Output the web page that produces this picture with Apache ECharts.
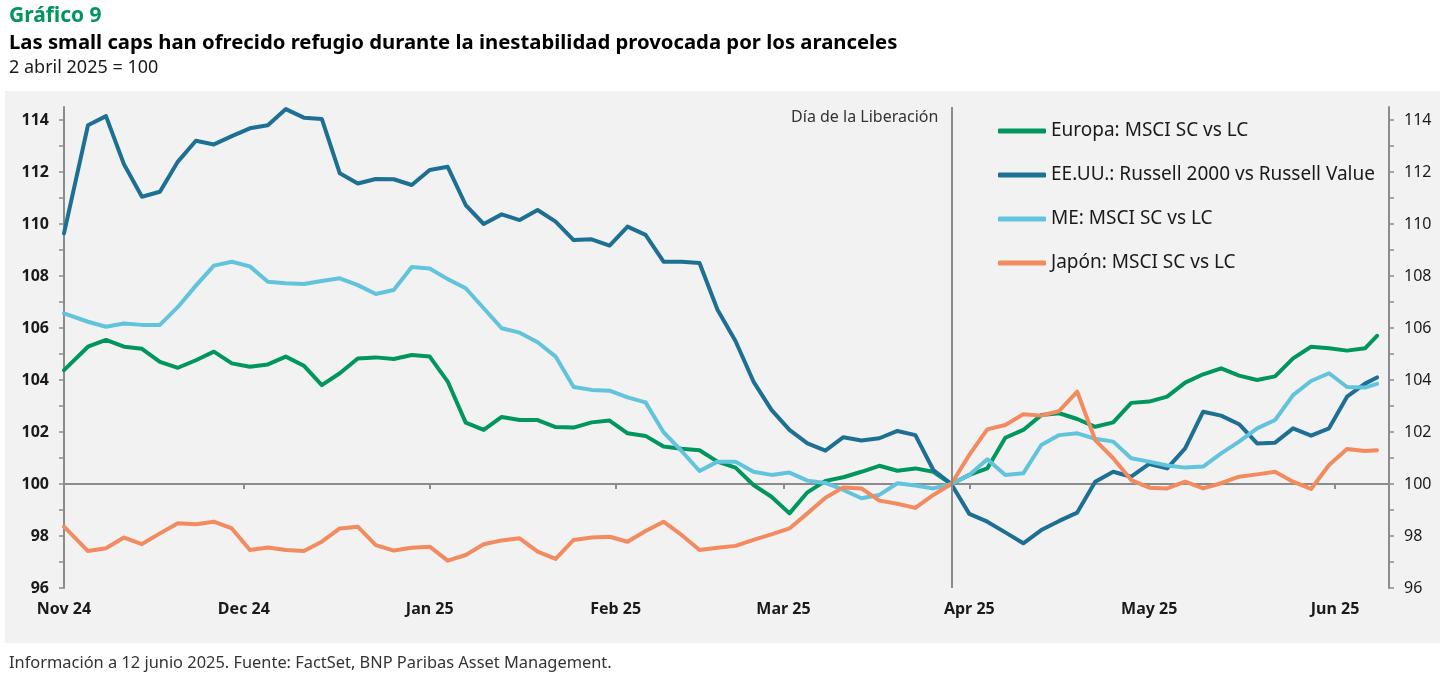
<!DOCTYPE html>
<html>
<head>
<meta charset="utf-8">
<title>Gráfico 9</title>
<script src="https://cdn.jsdelivr.net/npm/echarts@6/dist/echarts.min.js"></script>
<style>
  html, body { margin: 0; padding: 0; background: #fff; }
  #chart { width: 1443px; height: 673px; }
</style>
</head>
<body>
<div id="chart"></div>
<script>
// fechas de la serie (cada ~3 días)
const dates = [
  '2024-11-05', '2024-11-09', '2024-11-12', '2024-11-15', '2024-11-18', '2024-11-21', '2024-11-24', '2024-11-27', '2024-11-30',
  '2024-12-03', '2024-12-06', '2024-12-09', '2024-12-12', '2024-12-15', '2024-12-18', '2024-12-21', '2024-12-24', '2024-12-27', '2024-12-30',
  '2025-01-02', '2025-01-05', '2025-01-08', '2025-01-11', '2025-01-14', '2025-01-17', '2025-01-20', '2025-01-23', '2025-01-26', '2025-01-29',
  '2025-02-01', '2025-02-04', '2025-02-07', '2025-02-10', '2025-02-13', '2025-02-16', '2025-02-19', '2025-02-22', '2025-02-25', '2025-02-28',
  '2025-03-03', '2025-03-06', '2025-03-09', '2025-03-12', '2025-03-15', '2025-03-18', '2025-03-21', '2025-03-24', '2025-03-27', '2025-03-30',
  '2025-04-02', '2025-04-05', '2025-04-08', '2025-04-11', '2025-04-14', '2025-04-17', '2025-04-20', '2025-04-23', '2025-04-26', '2025-04-29',
  '2025-05-02', '2025-05-05', '2025-05-08', '2025-05-11', '2025-05-14', '2025-05-17', '2025-05-20', '2025-05-23', '2025-05-26', '2025-05-29',
  '2025-06-01', '2025-06-04', '2025-06-07', '2025-06-10', '2025-06-12'
]

const europa = [
  104.38, 105.28, 105.54, 105.28, 105.2, 104.7, 104.47, 104.76, 105.09,
  104.64, 104.51, 104.6, 104.9, 104.55, 103.8, 104.26, 104.83, 104.87, 104.81,
  104.96, 104.9, 103.94, 102.36, 102.08, 102.58, 102.46, 102.46, 102.19, 102.17,
  102.37, 102.44, 101.95, 101.85, 101.44, 101.36, 101.3, 100.86, 100.63, 99.96,
  99.51, 98.87, 99.68, 100.12, 100.26, 100.47, 100.7, 100.51, 100.6, 100.47,
  100, 100.35, 100.6, 101.78, 102.08, 102.65, 102.72, 102.5, 102.2, 102.37,
  103.12, 103.17, 103.36, 103.9, 104.22, 104.45, 104.17, 104.0, 104.14, 104.83,
  105.28, 105.22, 105.13, 105.22, 105.7
]

const eeuu = [
  109.64, 113.8, 114.15, 112.3, 111.05, 111.24, 112.4, 113.2, 113.06,
  113.38, 113.68, 113.8, 114.42, 114.09, 114.04, 111.95, 111.56, 111.73, 111.72,
  111.5, 112.08, 112.2, 110.73, 110.0, 110.37, 110.15, 110.54, 110.09, 109.38,
  109.41, 109.17, 109.9, 109.58, 108.55, 108.55, 108.5, 106.7, 105.5, 103.94,
  102.85, 102.08, 101.56, 101.28, 101.8, 101.67, 101.76, 102.04, 101.88, 100.54,
  100, 98.85, 98.55, 98.14, 97.72, 98.23, 98.58, 98.9, 100.09, 100.47,
  100.28, 100.77, 100.6, 101.37, 102.78, 102.63, 102.3, 101.56, 101.59, 102.14,
  101.86, 102.14, 103.36, 103.86, 104.1
]

const me = [
  106.56, 106.24, 106.05, 106.17, 106.12, 106.12, 106.81, 107.63, 108.4,
  108.55, 108.37, 107.78, 107.72, 107.69, 107.81, 107.91, 107.65, 107.31, 107.46,
  108.35, 108.29, 107.88, 107.53, 106.76, 105.99, 105.82, 105.45, 104.9, 103.73,
  103.62, 103.59, 103.33, 103.14, 101.99, 101.27, 100.5, 100.86, 100.86, 100.47,
  100.35, 100.44, 100.13, 100.04, 99.77, 99.45, 99.58, 100.03, 99.94, 99.83,
  100, 100.35, 100.95, 100.35, 100.41, 101.5, 101.88, 101.95, 101.74, 101.63,
  100.99, 100.86, 100.71, 100.63, 100.67, 101.18, 101.63, 102.14, 102.46, 103.42,
  103.96, 104.26, 103.73, 103.71, 103.85
]

const japon = [
  98.36, 97.42, 97.53, 97.94, 97.69, 98.1, 98.49, 98.45, 98.55,
  98.29, 97.46, 97.56, 97.46, 97.42, 97.78, 98.29, 98.36, 97.65, 97.44,
  97.55, 97.59, 97.05, 97.27, 97.68, 97.83, 97.91, 97.4, 97.12, 97.85,
  97.94, 97.97, 97.78, 98.19, 98.55, 98.04, 97.46, 97.55, 97.62, 97.85,
  98.06, 98.29, 98.87, 99.47, 99.87, 99.83, 99.36, 99.24, 99.08, 99.58,
  100, 101.12, 102.1, 102.27, 102.68, 102.63, 102.81, 103.55, 101.69, 100.99,
  100.15, 99.86, 99.83, 100.09, 99.83, 100.03, 100.28, 100.37, 100.47, 100.09,
  99.81, 100.73, 101.35, 101.27, 101.3
]

const seriesNames = ['Europa: MSCI SC vs LC', 'EE.UU.: Russell 2000 vs Russell Value', 'ME: MSCI SC vs LC', 'Japón: MSCI SC vs LC']
const seriesValues = [europa, eeuu, me, japon]
const seriesColors = ['#00965e', '#1d7093', '#62c3dc', '#f28b5f']

// marcas del eje x (el gráfico original las pone hacia el día 5 de cada mes)
const monthTicks = ['2024-11-05', '2024-12-05', '2025-01-05', '2025-02-05', '2025-03-05', '2025-04-05', '2025-05-05', '2025-06-05']
const monthLabels = ['Nov 24', 'Dec 24', 'Jan 25', 'Feb 25', 'Mar 25', 'Apr 25', 'May 25', 'Jun 25']

const yTicks = [96, 97, 98, 99, 100, 101, 102, 103, 104, 105, 106, 107, 108, 109, 110, 111, 112, 113, 114]
const yLabels = [96, 98, 100, 102, 104, 106, 108, 110, 112, 114]

const liberationDay = '2025-04-02'
const liberationLabel = 'Día de la Liberación'

const FONT = 'Noto Sans'
const AXIS_GREY = '#8c8c8c'

const myChart = echarts.init(document.getElementById('chart'))

// fechas -> milisegundos (UTC) para un eje numérico
const toStamp = d => Date.parse(d + 'T00:00:00Z')

const tickStamps = monthTicks.map(toStamp)
const labelByStamp = {}
tickStamps.forEach((t, i) => { labelByStamp[t] = monthLabels[i] })

const xMin = toStamp('2024-11-05')
const xMax = toStamp('2025-06-14')
const libStamp = toStamp(liberationDay)

const seriesList = seriesNames.map((name, i) => {
  const s = {
    name: name,
    type: 'line',
    xAxisIndex: 0,
    yAxisIndex: 0,
    showSymbol: false,
    symbol: 'none',
    color: seriesColors[i],
    lineStyle: { width: 4, color: seriesColors[i], cap: 'round', join: 'round' },
    emphasis: { disabled: true },
    data: dates.map((d, j) => [toStamp(d), seriesValues[i][j]])
  }
  if (i === 0) {
    s.markLine = {
      silent: true,
      symbol: 'none',
      label: { show: false },
      lineStyle: { color: AXIS_GREY, width: 2, type: 'solid' },
      data: [{ xAxis: libStamp }]
    }
    s.markPoint = {
      silent: true,
      symbol: 'circle',
      symbolSize: 0,
      label: {
        show: true,
        position: 'left',
        distance: 13,
        formatter: liberationLabel,
        fontFamily: FONT,
        fontSize: 16,
        color: '#333'
      },
      data: [{ coord: [libStamp, 114.08] }]
    }
  }
  return s
})

const option = {
  animation: false,
  backgroundColor: '#ffffff',
  textStyle: { fontFamily: FONT },
  title: [
    {
      text: 'Gráfico 9',
      left: 4, top: 1,
      textStyle: { fontFamily: FONT, fontSize: 21, fontWeight: 'bold', color: '#00965e' }
    },
    {
      text: 'Las small caps han ofrecido refugio durante la inestabilidad provocada por los aranceles',
      left: 4, top: 28,
      textStyle: { fontFamily: FONT, fontSize: 20.3, fontWeight: 'bold', color: '#000' }
    },
    {
      text: '2 abril 2025 = 100',
      left: 4, top: 54,
      textStyle: { fontFamily: FONT, fontSize: 18, fontWeight: 'normal', color: '#1a1a1a' }
    },
    {
      text: 'Información a 12 junio 2025. Fuente: FactSet, BNP Paribas Asset Management.',
      left: 4, top: 650,
      textStyle: { fontFamily: FONT, fontSize: 16.4, fontWeight: 'normal', color: '#333' }
    }
  ],
  graphic: [
    {
      type: 'rect',
      z: -10,
      silent: true,
      shape: { x: 5, y: 91, width: 1435, height: 552 },
      style: { fill: '#f2f2f2' }
    }
  ],
  legend: {
    orient: 'vertical',
    left: 998,
    top: 121,
    padding: 0,
    itemWidth: 48,
    itemHeight: 5,
    itemGap: 24,
    icon: 'roundRect',
    selectedMode: false,
    textStyle: { fontFamily: FONT, fontSize: 19, color: '#1a1a1a', lineHeight: 20 },
    data: seriesNames
  },
  grid: {
    left: 64,
    right: 54,
    top: 107,
    bottom: 85,
    outerBoundsMode: 'none'
  },
  xAxis: [
    {
      type: 'value',
      min: xMin,
      max: xMax,
      position: 'bottom',
      axisLine: { show: false },
      axisTick: { show: false },
      splitLine: { show: false },
      axisLabel: {
        show: true,
        customValues: tickStamps,
        formatter: v => labelByStamp[v] || '',
        margin: 13,
        fontFamily: FONT,
        fontSize: 16,
        fontWeight: 'bold',
        color: '#1a1a1a'
      }
    },
    {
      // línea de 100 con sus marcas
      type: 'value',
      min: xMin,
      max: xMax,
      position: 'bottom',
      offset: -104,
      axisLine: { show: true, onZero: false, lineStyle: { color: AXIS_GREY, width: 2 } },
      axisTick: { show: true, length: 5, customValues: tickStamps, lineStyle: { color: AXIS_GREY, width: 2 } },
      splitLine: { show: false },
      axisLabel: { show: false }
    }
  ],
  yAxis: [
    {
      type: 'value',
      position: 'left',
      min: 96,
      max: 114.5,
      axisLine: { show: true, lineStyle: { color: AXIS_GREY, width: 2 } },
      axisTick: { show: true, length: 5, customValues: yTicks, lineStyle: { color: AXIS_GREY, width: 1.5 } },
      splitLine: { show: false },
      axisLabel: {
        customValues: yLabels,
        margin: 15,
        fontFamily: FONT,
        fontSize: 16,
        fontWeight: 'bold',
        color: '#1a1a1a'
      }
    },
    {
      type: 'value',
      position: 'right',
      min: 96,
      max: 114.5,
      axisLine: { show: true, lineStyle: { color: AXIS_GREY, width: 2 } },
      axisTick: { show: true, length: 5, customValues: yTicks, lineStyle: { color: AXIS_GREY, width: 1.5 } },
      splitLine: { show: false },
      axisLabel: {
        customValues: yLabels,
        margin: 15,
        fontFamily: FONT,
        fontSize: 16,
        color: '#1a1a1a'
      }
    }
  ],
  series: seriesList
}

option && myChart.setOption(option)
</script>
</body>
</html>
